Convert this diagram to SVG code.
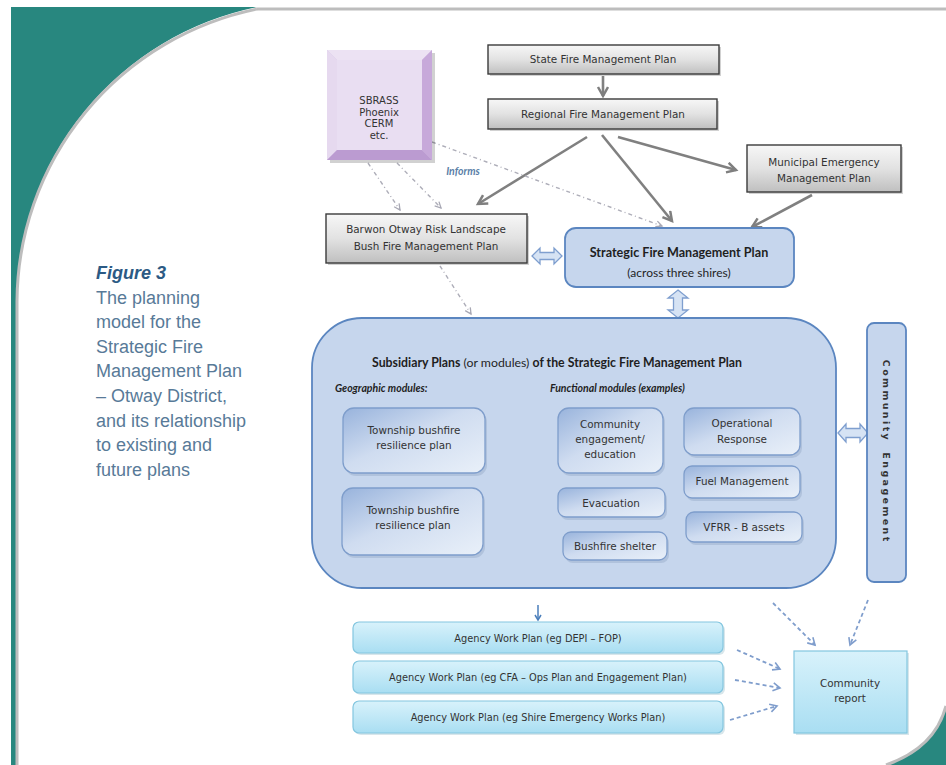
<svg xmlns="http://www.w3.org/2000/svg" width="946" height="765" viewBox="0 0 946 765">
<defs>
  <linearGradient id="grayBox" x1="0" y1="0" x2="0" y2="1">
    <stop offset="0" stop-color="#f7f7f7"/>
    <stop offset="0.5" stop-color="#e2e2e2"/>
    <stop offset="1" stop-color="#bfbfbf"/>
  </linearGradient>
  <linearGradient id="modGrad" x1="0" y1="0" x2="1" y2="1">
    <stop offset="0" stop-color="#98b3dc"/>
    <stop offset="0.45" stop-color="#cfdcf0"/>
    <stop offset="1" stop-color="#e9f0f9"/>
  </linearGradient>
  <linearGradient id="cyanGrad" x1="0" y1="0" x2="0" y2="1">
    <stop offset="0" stop-color="#d8f2fb"/>
    <stop offset="1" stop-color="#a9def2"/>
  </linearGradient>
  <marker id="ahGray" markerUnits="userSpaceOnUse" markerWidth="14" markerHeight="14" refX="10" refY="6" orient="auto">
    <path d="M1,1 L10,6 L1,11" fill="none" stroke="#7f7f7f" stroke-width="2.5"/>
  </marker>
  <marker id="ahDash" markerUnits="userSpaceOnUse" markerWidth="10" markerHeight="10" refX="7" refY="4" orient="auto">
    <path d="M1,1 L7,4 L1,7" fill="none" stroke="#a8a8b4" stroke-width="1.3"/>
  </marker>
  <marker id="ahBlue" markerUnits="userSpaceOnUse" markerWidth="12" markerHeight="12" refX="8" refY="5" orient="auto">
    <path d="M1,1 L8,5 L1,9" fill="none" stroke="#7f9dcc" stroke-width="1.6"/>
  </marker>
  <marker id="ahBlueSolid" markerUnits="userSpaceOnUse" markerWidth="10" markerHeight="10" refX="6" refY="4" orient="auto">
    <path d="M1,1 L6,4 L1,7" fill="none" stroke="#4a7ebb" stroke-width="1.5"/>
  </marker>
  <style>
    .gbox { fill: url(#grayBox); stroke: #3b3b3b; stroke-width: 1.4; }
    .shadow { fill: #000; opacity: 0.18; }
    .t { font-family: "DejaVu Sans", Verdana, sans-serif; font-size: 10.4px; fill: #333; text-anchor: middle; }
    .c { font-family: Lato, "Liberation Sans", sans-serif; fill: #1f1f1f; text-anchor: middle; }
    .mod { fill: url(#modGrad); stroke: #7e9dcb; stroke-width: 1.3; }
    .modsh { fill: #6f87ad; opacity: 0.25; }
    .blue { fill: #c6d6ed; stroke: #5b86c0; stroke-width: 1.8; }
    .dbl { fill: #d6e3f4; stroke: #7f9fcf; stroke-width: 1.3; }
    .cyan { fill: url(#cyanGrad); stroke: #83c6df; stroke-width: 1.2; }
    .solid { stroke: #808080; stroke-width: 2.6; fill: none; marker-end: url(#ahGray); }
    .dashg { stroke: #adadb8; stroke-width: 1.4; fill: none; stroke-dasharray: 4 3 1 3; marker-end: url(#ahDash); }
    .dashb { stroke: #7f9dcc; stroke-width: 1.8; fill: none; stroke-dasharray: 4 3; marker-end: url(#ahBlue); }
    .cap { font-family: "Liberation Sans", Arial, sans-serif; font-size: 18px; fill: #587a98; }
  </style>
</defs>

<!-- background / slide frame -->
<rect x="0" y="0" width="946" height="765" fill="#ffffff"/>
<g id="frame">
  <path d="M11,7 L257,7 A300,300 0 0 0 17,301 L17,765 L11,765 Z" fill="#28877f"/>
  <path d="M946,706 Q935,748 886,765 L946,765 Z" fill="#28877f"/>
  <path d="M257,9 L946,9" stroke="#bdbdbd" stroke-width="3" fill="none"/>
  <path d="M257,9 A300,300 0 0 0 17,301 L17,765" stroke="#bdbdbd" stroke-width="3" fill="none"/>
  <path d="M946,706 Q935,748 886,765" stroke="#bdbdbd" stroke-width="3" fill="none"/>
</g>

<!-- caption -->
<g id="caption">
  <text x="96" y="279" class="cap" style="font-weight:bold;font-style:italic;fill:#2c5a84">Figure 3</text>
  <text x="96" y="304" class="cap">The planning</text>
  <text x="96" y="328" class="cap">model for the</text>
  <text x="96" y="353" class="cap">Strategic Fire</text>
  <text x="96" y="377" class="cap">Management Plan</text>
  <text x="96" y="402" class="cap">– Otway District,</text>
  <text x="96" y="427" class="cap">and its relationship</text>
  <text x="96" y="451" class="cap">to existing and</text>
  <text x="96" y="476" class="cap">future plans</text>
</g>

<!-- connectors -->
<g id="connectors">
  <line class="solid" x1="603" y1="76" x2="603" y2="96"/>
  <line class="solid" x1="587" y1="137" x2="478" y2="204"/>
  <line class="solid" x1="602" y1="135" x2="672" y2="221"/>
  <line class="solid" x1="618" y1="137" x2="736" y2="170"/>
  <line class="solid" x1="812" y1="195" x2="752" y2="227"/>
  <line class="dashg" x1="432" y1="142" x2="662" y2="226"/>
  <line class="dashg" x1="368" y1="163" x2="400" y2="210"/>
  <line class="dashg" x1="397" y1="163" x2="441" y2="208"/>
  <line class="dashg" x1="440" y1="266" x2="471" y2="314"/>
  <line class="dashb" x1="773" y1="603" x2="815" y2="645"/>
  <line class="dashb" x1="868" y1="600" x2="850" y2="645"/>
  <line class="dashb" x1="737" y1="650" x2="780" y2="669"/>
  <line class="dashb" x1="735" y1="680" x2="780" y2="688"/>
  <line class="dashb" x1="730" y1="720" x2="777" y2="706"/>
  <line x1="538" y1="605" x2="538" y2="620" stroke="#4a7ebb" stroke-width="1.5" marker-end="url(#ahBlueSolid)"/>
  <text x="463" y="175" style="font-family:Lato,'Liberation Sans',sans-serif;font-size:10.5px;font-weight:bold;font-style:italic;fill:#5b7fa8;text-anchor:middle">Informs</text>
  <!-- double-headed block arrows -->
  <path class="dbl" d="M532,256 L540,248 L540,252.5 L554,252.5 L554,248 L562,256 L554,264 L554,259.5 L540,259.5 L540,264 Z"/>
  <path class="dbl" d="M678,290 L688,298 L682.5,298 L682.5,310 L688,310 L678,318 L668,310 L673.5,310 L673.5,298 L668,298 Z"/>
  <path class="dbl" d="M838,433 L846,424 L846,428.5 L860,428.5 L860,424 L868,433 L860,442 L860,437.5 L846,437.5 L846,442 Z"/>
</g>

<!-- SBRASS -->
<g id="sbrass">
  <rect x="330" y="53" width="105" height="110" class="shadow"/>
  <rect x="327" y="50" width="105" height="110" fill="#d7c2e5"/>
  <polygon points="327,50 432,50 422,60 337,60" fill="#ece2f3"/>
  <polygon points="327,50 337,60 337,150 327,160" fill="#e6d9ef"/>
  <polygon points="432,50 432,160 422,150 422,60" fill="#c7a9da"/>
  <polygon points="327,160 432,160 422,150 337,150" fill="#bb9bd1"/>
  <rect x="337" y="60" width="85" height="90" fill="#e9def2"/>
  <text x="379" y="104" class="t" style="font-size:10px">SBRASS</text>
  <text x="379" y="115.5" class="t" style="font-size:10px">Phoenix</text>
  <text x="379" y="127" class="t" style="font-size:10px">CERM</text>
  <text x="379" y="138.5" class="t" style="font-size:10px">etc.</text>
</g>

<g id="state">
  <rect x="490" y="47" width="231" height="29" class="shadow"/>
  <rect x="488" y="45" width="231" height="29" class="gbox"/>
  <text x="603" y="63" class="t">State Fire Management Plan</text>
</g>

<g id="regional">
  <rect x="490" y="101" width="229" height="30" class="shadow"/>
  <rect x="488" y="99" width="229" height="30" class="gbox"/>
  <text x="603" y="118" class="t">Regional Fire Management Plan</text>
</g>

<g id="municipal">
  <rect x="749" y="147" width="154" height="47" class="shadow"/>
  <rect x="747" y="145" width="154" height="47" class="gbox"/>
  <text x="824" y="166" class="t">Municipal Emergency</text>
  <text x="824" y="182" class="t">Management Plan</text>
</g>

<g id="barwon">
  <rect x="328" y="216" width="201" height="49" class="shadow"/>
  <rect x="326" y="214" width="201" height="49" class="gbox"/>
  <text x="426" y="233" class="t">Barwon Otway Risk Landscape</text>
  <text x="426" y="250" class="t">Bush Fire Management Plan</text>
</g>

<g id="strategic">
  <rect x="565" y="228" width="229" height="59" rx="11" class="blue"/>
  <text x="679" y="257" class="c" style="font-size:12.6px;font-weight:bold">Strategic Fire Management Plan</text>
  <text x="679" y="277" class="c" style="font-size:12px">(across three shires)</text>
</g>

<g id="subsidiary">
  <rect x="312" y="318" width="524" height="270" rx="50" class="blue"/>
  <text x="557" y="367" class="c" style="font-size:12.3px"><tspan font-weight="bold">Subsidiary  Plans</tspan> (or modules) <tspan font-weight="bold">of the Strategic Fire Management  Plan</tspan></text>
  <text x="335" y="392" class="c" style="font-size:10.5px;font-weight:bold;font-style:italic;text-anchor:start">Geographic modules:</text>
  <text x="550" y="392" class="c" style="font-size:10.5px;font-weight:bold;font-style:italic;text-anchor:start">Functional modules (examples)</text>
</g>

<g id="township1">
  <rect x="345" y="411" width="142" height="65" rx="11" class="modsh"/>
  <rect x="343" y="408" width="142" height="65" rx="11" class="mod"/>
  <text x="414" y="434" class="t">Township bushfire</text>
  <text x="414" y="449" class="t">resilience plan</text>
</g>
<g id="township2">
  <rect x="344" y="491" width="141" height="67" rx="11" class="modsh"/>
  <rect x="342" y="488" width="141" height="67" rx="11" class="mod"/>
  <text x="413" y="514" class="t">Township bushfire</text>
  <text x="413" y="529" class="t">resilience plan</text>
</g>
<g id="community-engagement-module">
  <rect x="560" y="411" width="105" height="65" rx="11" class="modsh"/>
  <rect x="558" y="408" width="105" height="65" rx="11" class="mod"/>
  <text x="610" y="428" class="t">Community</text>
  <text x="610" y="443" class="t">engagement/</text>
  <text x="610" y="458" class="t">education</text>
</g>
<g id="operational">
  <rect x="686" y="411" width="116" height="47" rx="10" class="modsh"/>
  <rect x="684" y="408" width="116" height="47" rx="10" class="mod"/>
  <text x="742" y="427" class="t">Operational</text>
  <text x="742" y="443" class="t">Response</text>
</g>
<g id="fuel">
  <rect x="686" y="469" width="116" height="32" rx="8" class="modsh"/>
  <rect x="684" y="466" width="116" height="32" rx="8" class="mod"/>
  <text x="742" y="485" class="t">Fuel Management</text>
</g>
<g id="evacuation">
  <rect x="560" y="491" width="107" height="29" rx="8" class="modsh"/>
  <rect x="558" y="488" width="107" height="29" rx="8" class="mod"/>
  <text x="611" y="507" class="t">Evacuation</text>
</g>
<g id="vfrr">
  <rect x="688" y="515" width="116" height="30" rx="8" class="modsh"/>
  <rect x="686" y="512" width="116" height="30" rx="8" class="mod"/>
  <text x="744" y="531" class="t">VFRR - B assets</text>
</g>
<g id="shelter">
  <rect x="565" y="535" width="104" height="28" rx="8" class="modsh"/>
  <rect x="563" y="532" width="104" height="28" rx="8" class="mod"/>
  <text x="615" y="550" class="t">Bushfire shelter</text>
</g>

<g id="community-engagement">
  <rect x="867" y="323" width="39" height="259" rx="7" class="blue"/>
  <text transform="translate(883,401) rotate(90)" class="t" style="font-size:9.5px;font-weight:bold;letter-spacing:2.4px;fill:#333">Community</text>
  <text transform="translate(883,498) rotate(90)" class="t" style="font-size:9.5px;font-weight:bold;letter-spacing:2.4px;fill:#333">Engagement</text>
</g>

<g id="agency1">
  <rect x="355" y="624" width="370" height="31" rx="6" fill="#8fb6c6" opacity="0.35"/>
  <rect x="353" y="622" width="370" height="31" rx="6" class="cyan"/>
  <text x="538" y="642" class="t" style="font-size:9.8px">Agency Work Plan (eg DEPI – FOP)</text>
</g>
<g id="agency2">
  <rect x="355" y="663" width="370" height="32" rx="6" fill="#8fb6c6" opacity="0.35"/>
  <rect x="353" y="661" width="370" height="32" rx="6" class="cyan"/>
  <text x="538" y="681" class="t" style="font-size:9.8px">Agency Work Plan (eg CFA – Ops Plan and Engagement Plan)</text>
</g>
<g id="agency3">
  <rect x="355" y="703" width="370" height="32" rx="6" fill="#8fb6c6" opacity="0.35"/>
  <rect x="353" y="701" width="370" height="32" rx="6" class="cyan"/>
  <text x="538" y="721" class="t" style="font-size:9.8px">Agency Work Plan (eg Shire Emergency Works Plan)</text>
</g>

<g id="community-report">
  <rect x="796" y="653" width="113" height="82" fill="#8fb6c6" opacity="0.35"/>
  <rect x="794" y="651" width="113" height="82" class="cyan"/>
  <text x="850" y="687" class="t">Community</text>
  <text x="850" y="702" class="t">report</text>
</g>
</svg>
